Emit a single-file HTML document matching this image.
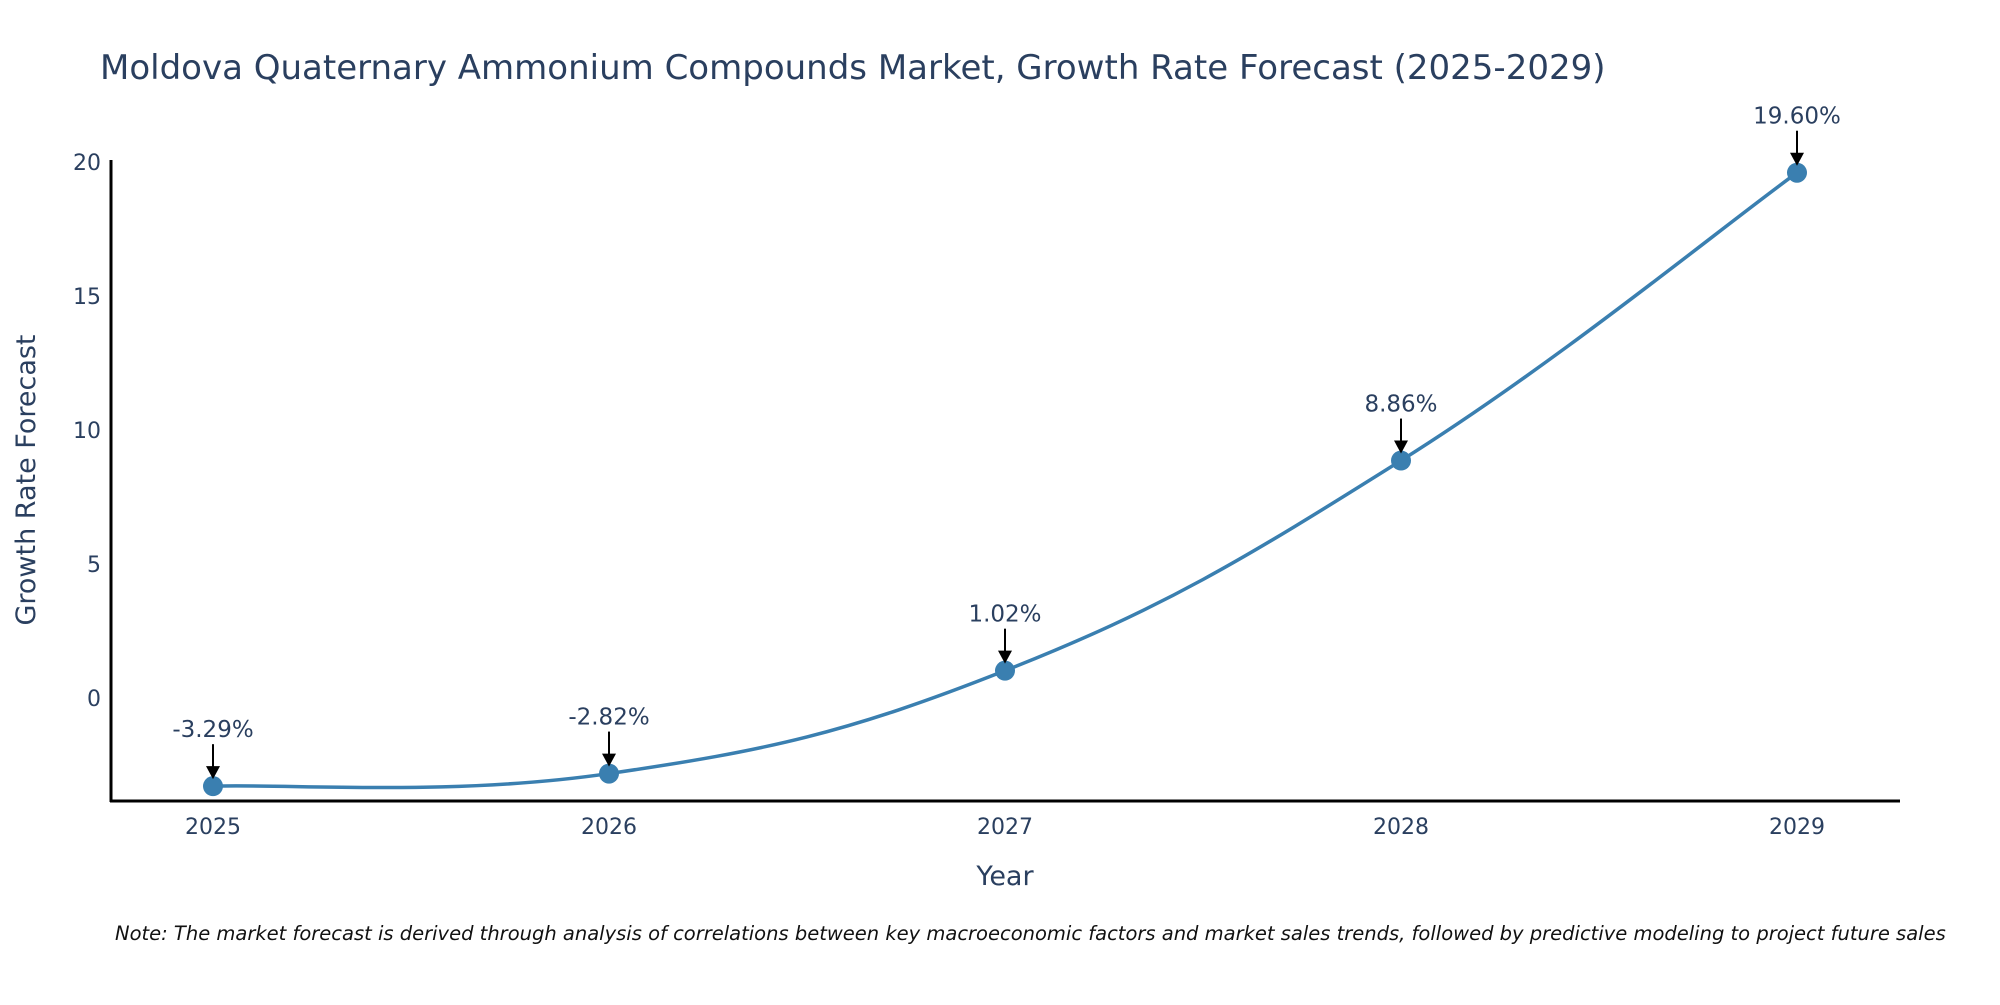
<!DOCTYPE html>
<html><head><meta charset="utf-8"><style>
body{margin:0;background:#fff;}
svg text{font-family:"DejaVu Sans","Liberation Sans",sans-serif;}
</style></head><body>
<svg id="chart" width="2000" height="1000" xmlns="http://www.w3.org/2000/svg">
<rect width="2000" height="1000" fill="#fff"/>
<text x="100" y="79" font-size="34" fill="#2a3f5f">Moldova Quaternary Ammonium Compounds Market, Growth Rate Forecast (2025-2029)</text>
<g id="yticks"></g><g id="xticks"></g>
<line x1="111" y1="160" x2="111" y2="802" stroke="#000" stroke-width="3"/>
<line x1="110" y1="801" x2="1900" y2="801" stroke="#000" stroke-width="3"/>
<text transform="translate(35,480) rotate(-90)" text-anchor="middle" font-size="27" fill="#2a3f5f">Growth Rate Forecast</text>
<text x="1005" y="885" text-anchor="middle" font-size="27" fill="#2a3f5f">Year</text>
<path id="line" fill="none" stroke="#3a7fb0" stroke-width="3.5"/>
<g id="marks"></g>
<text x="115" y="940" font-size="19.5" font-style="italic" fill="#111">Note: The market forecast is derived through analysis of correlations between key macroeconomic factors and market sales trends, followed by predictive modeling to project future sales</text>
</svg>
<script>
const years=["2025","2026","2027","2028","2029"];
const values=[-3.29,-2.82,1.02,8.86,19.60];
const labels=["-3.29%","-2.82%","1.02%","8.86%","19.60%"];
const yTicks=[0,5,10,15,20];
const NS="http://www.w3.org/2000/svg";
const x0=213,dx=396,yZero=698,pxPerUnit=26.8;
function xs(i){return x0+i*dx;}
function ys(v){return yZero-v*pxPerUnit;}
function mk(t,a){const e=document.createElementNS(NS,t);for(const k in a)e.setAttribute(k,a[k]);return e;}
const yt=document.getElementById('yticks');
yTicks.forEach(v=>{const t=mk('text',{x:101,y:ys(v)+8,'text-anchor':'end','font-size':'22',fill:'#2a3f5f'});


t.textContent=v;yt.appendChild(t);});
const xt=document.getElementById('xticks');
years.forEach((y,i)=>{const t=mk('text',{x:xs(i),y:834,'text-anchor':'middle','font-size':'22',fill:'#2a3f5f'});


t.textContent=y;xt.appendChild(t);});
const P=values.map((v,i)=>[xs(i),ys(v)]);
let d="M"+P[0][0]+","+P[0][1];
const k=0.2;
for(let i=0;i<P.length-1;i++){
 const p0=P[Math.max(0,i-1)],p1=P[i],p2=P[i+1],p3=P[Math.min(P.length-1,i+2)];
 const c1=[p1[0]+(p2[0]-p0[0])*k,p1[1]+(p2[1]-p0[1])*k];
 const c2=[p2[0]-(p3[0]-p1[0])*k,p2[1]-(p3[1]-p1[1])*k];
 d+=" C"+c1+" "+c2+" "+p2;
}
document.getElementById('line').setAttribute('d',d);
const g=document.getElementById('marks');
P.forEach((p,i)=>{
 const c=mk('circle',{cx:p[0],cy:p[1],r:10,fill:'#3a7fb0'});
 
 
 g.appendChild(c);
 const l=mk('line',{x1:p[0],y1:p[1]-42,x2:p[0],y2:p[1]-18,stroke:'#000','stroke-width':2});
 
 
 g.appendChild(l);
 const h=mk('polygon',{points:`${p[0]-7},${p[1]-20} ${p[0]+7},${p[1]-20} ${p[0]},${p[1]-7}`,fill:'#000'});
 
 
 g.appendChild(h);
 const t=mk('text',{x:p[0],y:p[1]-49,'text-anchor':'middle','font-size':'23',fill:'#2a3f5f'});
 
 
 t.textContent=labels[i];g.appendChild(t);
});
</script>
</body></html>
